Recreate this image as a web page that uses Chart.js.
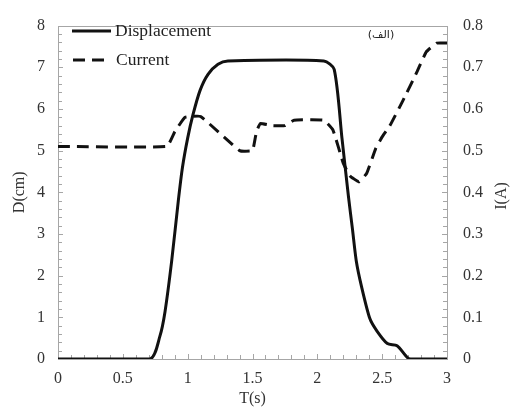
<!DOCTYPE html>
<html>
<head>
<meta charset="utf-8">
<script src="https://cdn.jsdelivr.net/npm/chart.js@4/dist/chart.umd.min.js"></script>
<style>
  html, body { margin: 0; padding: 0; background: #fff; }
  #wrap { width: 514px; height: 419px; }
</style>
</head>
<body>
<div id="wrap"><canvas id="chart" width="514" height="419"></canvas></div>
<script>
// time (s) and displacement (cm)
const dispT = [0, 0.71, 0.786, 0.825, 0.877, 0.928, 0.96, 1.0, 1.04, 1.095, 1.157, 1.234, 1.31, 2.05, 2.13, 2.19, 2.24, 2.27, 2.30, 2.34, 2.405, 2.46, 2.54, 2.615, 2.70, 2.75, 3];
const dispD = [0, 0, 0.55, 1.13, 2.36, 3.8, 4.6, 5.3, 5.85, 6.44, 6.83, 7.07, 7.15, 7.15, 6.95, 5.3, 3.9, 3.14, 2.36, 1.75, 0.97, 0.67, 0.37, 0.32, 0.02, 0, 0];
// time (s) and current (A)
const curT = [0, 0.84, 0.90, 0.98, 1.1, 1.4, 1.5, 1.53, 1.56, 1.65, 1.75, 1.82, 2.05, 2.12, 2.2, 2.25, 2.32, 2.38, 2.45, 2.5, 2.56, 2.66, 2.77, 2.84, 2.92, 3];
const curI = [0.51, 0.51, 0.545, 0.58, 0.582, 0.50, 0.50, 0.545, 0.565, 0.56, 0.56, 0.573, 0.573, 0.55, 0.47, 0.44, 0.425, 0.445, 0.505, 0.533, 0.56, 0.62, 0.69, 0.737, 0.758, 0.758];

const labels = ["Displacement", "Current"];
const xTitle = "T(s)";
const yTitle = "D(cm)";
const y1Title = "I(A)";
const cornerTag = "(الف)";

const serif = "'Liberation Serif', 'Times New Roman', serif";
const textCol = "#333";
const frameCol = "#a6a6a6";

function pts(xs, ys) { return xs.map((x, i) => ({ x: x, y: ys[i] })); }
function num(v) { return String(Math.round(v * 100) / 100); }

// frame, inward ticks, legend and extra labels
const decor = {
  id: "decor",
  beforeDatasetsDraw(chart) {
    const ctx = chart.ctx, a = chart.chartArea;
    const sx = chart.scales.x, sy = chart.scales.y, sy1 = chart.scales.y1;
    ctx.save();
    ctx.strokeStyle = frameCol;
    ctx.lineWidth = 1;
    ctx.strokeRect(Math.round(a.left) + 0.5, Math.round(a.top) + 0.5, Math.round(a.right - a.left), Math.round(a.bottom - a.top));
    ctx.beginPath();
    for (let i = 0; i <= 40; i++) {
      const p = Math.round(sy.getPixelForValue(i * 0.2)) + 0.5;
      const len = i % 5 === 0 ? 5 : 4;
      ctx.moveTo(a.left, p); ctx.lineTo(a.left + len, p);
    }
    for (let i = 0; i <= 40; i++) {
      const p = Math.round(sy1.getPixelForValue(i * 0.02)) + 0.5;
      const len = i % 5 === 0 ? 5 : 4;
      ctx.moveTo(a.right, p); ctx.lineTo(a.right - len, p);
    }
    for (let i = 0; i <= 30; i++) {
      const p = Math.round(sx.getPixelForValue(i * 0.1)) + 0.5;
      const len = i % 5 === 0 ? 5 : 4;
      ctx.moveTo(p, a.bottom); ctx.lineTo(p, a.bottom - len);
    }
    ctx.stroke();
    ctx.restore();
  },
  afterDraw(chart) {
    const ctx = chart.ctx;
    const ds = chart.data.datasets;
    ctx.save();
    // legend
    ctx.strokeStyle = "#111";
    ctx.lineWidth = 3;
    ctx.beginPath();
    ctx.moveTo(72, 31); ctx.lineTo(111, 31);
    ctx.stroke();
    ctx.setLineDash([12, 7]);
    ctx.beginPath();
    ctx.moveTo(73, 60); ctx.lineTo(104, 60);
    ctx.stroke();
    ctx.setLineDash([]);
    ctx.fillStyle = "#222";
    ctx.font = "17.5px " + serif;
    ctx.textBaseline = "middle";
    ctx.textAlign = "left";
    ctx.fillText(ds[0].label, 115, 31);
    ctx.fillText(ds[1].label, 116, 60);
    // corner tag
    ctx.font = "11px 'DejaVu Sans', 'Noto Sans', sans-serif";
    ctx.textAlign = "center";
    ctx.fillText(cornerTag, 381, 35);
    // right axis title, reading upward
    ctx.fillStyle = textCol;
    ctx.font = "16px " + serif;
    ctx.translate(502, 196);
    ctx.rotate(-Math.PI / 2);
    ctx.fillText(y1Title, 0, 0);
    ctx.restore();
  }
};

new Chart(document.getElementById("chart"), {
  type: "line",
  data: {
    datasets: [
      {
        label: labels[0],
        data: pts(dispT, dispD),
        yAxisID: "y",
        borderColor: "#111",
        borderWidth: 3,
        pointRadius: 0,
        tension: 0.25,
        fill: false
      },
      {
        label: labels[1],
        data: pts(curT, curI),
        yAxisID: "y1",
        borderColor: "#111",
        borderWidth: 3,
        borderDash: [12, 7],
        pointRadius: 0,
        tension: 0.1,
        fill: false
      }
    ]
  },
  options: {
    responsive: false,
    animation: false,
    layout: { padding: { top: 13, left: 0, right: 0, bottom: 0 } },
    plugins: { legend: { display: false }, tooltip: { enabled: false } },
    scales: {
      x: {
        type: "linear",
        min: 0, max: 3,
        grid: { display: false, drawTicks: false },
        border: { display: false },
        ticks: { stepSize: 0.5, padding: 10, color: textCol, font: { family: serif, size: 16 }, callback: num },
        title: { display: true, text: xTitle, color: textCol, font: { family: serif, size: 16 }, padding: { top: 0, bottom: 11 } },
        afterFit(s) { s.height = 60; }
      },
      y: {
        position: "left",
        min: 0, max: 8,
        grid: { display: false, drawTicks: false },
        border: { display: false },
        ticks: { stepSize: 1, padding: 13, color: textCol, font: { family: serif, size: 16 }, callback: num },
        title: { display: true, text: yTitle, color: textCol, font: { family: serif, size: 16 }, padding: { top: 10, bottom: 0 } },
        afterFit(s) { s.width = 58; }
      },
      y1: {
        position: "right",
        min: 0, max: 0.8,
        grid: { display: false, drawTicks: false },
        border: { display: false },
        ticks: { stepSize: 0.1, padding: 16, color: textCol, font: { family: serif, size: 16 }, callback: num },
        afterFit(s) { s.width = 67; }
      }
    }
  },
  plugins: [decor]
});
</script>
</body>
</html>
